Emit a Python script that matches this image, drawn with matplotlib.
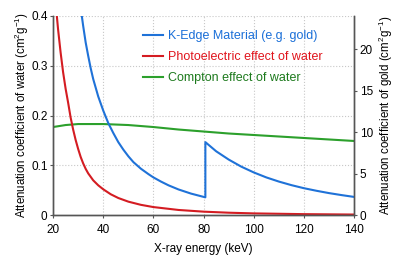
import matplotlib
matplotlib.use('Agg')
import matplotlib.pyplot as plt

plt.rcParams['font.family'] = ['Liberation Sans', 'DejaVu Sans']
plt.rcParams['mathtext.fontset'] = 'custom'
plt.rcParams['mathtext.rm'] = 'Liberation Sans'
plt.rcParams['mathtext.it'] = 'Liberation Sans'

# K-edge material (gold), right axis
gold_e = [31, 32, 33, 34, 35, 36, 38, 40, 42, 44, 46, 48, 50, 52, 55, 58, 60, 63, 66, 70, 75, 80.7,
          80.7, 85, 90, 95, 100, 105, 110, 115, 120, 125, 130, 135, 140]
gold_mu = [25.0, 22.8, 20.8, 19.2, 17.7, 16.4, 14.3, 12.6, 11.1, 9.9, 8.8, 7.9, 7.1, 6.4, 5.6, 4.95,
           4.55, 4.05, 3.6, 3.1, 2.6, 2.15,
           8.8, 7.7, 6.7, 5.85, 5.15, 4.55, 4.05, 3.62, 3.25, 2.94, 2.66, 2.42, 2.2]

# photoelectric effect of water, left axis
photo_e = [21, 21.5, 22, 23, 24, 25, 26, 27, 28, 29, 30, 31, 32, 33, 34, 36, 38, 40,
           43, 46, 50, 55, 60, 70, 80, 90, 100, 120, 140]
photo_mu = [0.43, 0.40, 0.373, 0.327, 0.287, 0.254, 0.226, 0.196, 0.172, 0.151, 0.133, 0.117,
            0.104, 0.093, 0.084, 0.070, 0.060, 0.052, 0.042, 0.0345, 0.0272, 0.0208, 0.0163,
            0.0105, 0.0071, 0.0050, 0.0036, 0.0021, 0.0013]

# compton effect of water, left axis
compton_e = [20, 25, 30, 40, 50, 60, 70, 80, 90, 100, 110, 120, 130, 140]
compton_mu = [0.177, 0.181, 0.183, 0.183, 0.181, 0.177, 0.172, 0.168, 0.164, 0.161, 0.158, 0.155, 0.152, 0.149]

labels = ['K-Edge Material (e.g. gold)', 'Photoelectric effect of water', 'Compton effect of water']
line_colors = ['#1f72d8', '#d41c22', '#2ca02c']
text_colors = ['#1a6fd8', '#e0141c', '#1d7a1d']

fig = plt.figure(figsize=(4.02, 2.66), dpi=100)
ax1 = fig.add_axes([0.132, 0.191, 0.749, 0.749])
ax2 = ax1.twinx()

l3, = ax1.plot(compton_e, compton_mu, color=line_colors[2], lw=1.5)
l2, = ax1.plot(photo_e, photo_mu, color=line_colors[1], lw=1.5)
l1, = ax2.plot(gold_e, gold_mu, color=line_colors[0], lw=1.5)

ax1.set_xlim(20, 140)
ax1.set_ylim(0, 0.4)
ax2.set_ylim(0, 24)
ax1.set_xticks([20, 40, 60, 80, 100, 120, 140])
ax1.set_yticks([0, 0.1, 0.2, 0.3, 0.4])
ax1.set_yticklabels(['0', '0.1', '0.2', '0.3', '0.4'])
ax2.set_yticks([0, 5, 10, 15, 20])

for x in [40, 60, 80, 100, 120]:
    ax1.axvline(x, color='#c8c8c8', ls=':', lw=0.8, zorder=0)
for y in [0.1, 0.2, 0.3, 0.4]:
    ax1.axhline(y, color='#c8c8c8', ls=':', lw=0.8, zorder=0)

for ax in (ax1, ax2):
    ax.spines['top'].set_visible(False)
    for s in ('left', 'right', 'bottom'):
        ax.spines[s].set_color('#555555')
        ax.spines[s].set_linewidth(1.0)
    ax.tick_params(direction='out', length=2.5, width=0.8, color='#555555',
                   labelsize=8.5, pad=1.5)
ax1.tick_params(axis='x', pad=4)

ax1.set_xlabel('X-ray energy (keV)', fontsize=8.5, labelpad=5)
ax1.set_ylabel('Attenuation coefficient of water (cm$^2$g$^{-1}$)', fontsize=8.3, labelpad=0)
ax2.set_ylabel('Attenuation coefficient of gold (cm$^2$g$^{-1}$)', fontsize=8.3, labelpad=3)

ax2.legend([l1, l2, l3], labels, loc='upper left', bbox_to_anchor=(0.299, 0.93),
           frameon=False, fontsize=9, labelcolor=text_colors, handlelength=1.6,
           handletextpad=0.4, labelspacing=0.72, borderpad=0, borderaxespad=0)

fig.savefig('out.png', dpi=100)
